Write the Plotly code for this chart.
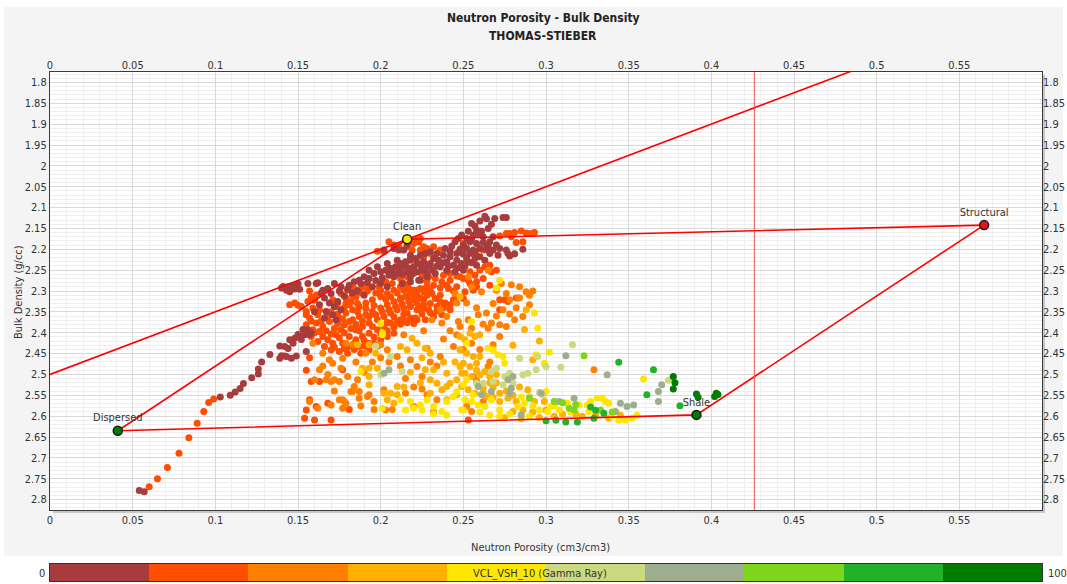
import plotly.graph_objects as go

# ---------------- DATA ----------------
title_1 = "Neutron Porosity - Bulk Density"
title_2 = "THOMAS-STIEBER"
x_title = "Neutron Porosity (cm3/cm3)"
y_title = "Bulk Density (g/cc)"
colorbar_title = "VCL_VSH_10 (Gamma Ray)"

x_ticks = [0, 0.05, 0.1, 0.15, 0.2, 0.25, 0.3, 0.35, 0.4, 0.45, 0.5, 0.55]
x_tick_labels = ["0", "0.05", "0.1", "0.15", "0.2", "0.25", "0.3", "0.35", "0.4", "0.45", "0.5", "0.55"]
y_ticks = [1.8, 1.85, 1.9, 1.95, 2.0, 2.05, 2.1, 2.15, 2.2, 2.25, 2.3, 2.35, 2.4, 2.45,
           2.5, 2.55, 2.6, 2.65, 2.7, 2.75, 2.8]
y_tick_labels = ["1.8", "1.85", "1.9", "1.95", "2", "2.05", "2.1", "2.15", "2.2", "2.25", "2.3",
                 "2.35", "2.4", "2.45", "2.5", "2.55", "2.6", "2.65", "2.7", "2.75", "2.8"]

vsh_bin_edges = [0, 10, 20, 30, 40, 50, 60, 70, 80, 90, 100]
vsh_bin_centers = [5, 15, 25, 35, 45, 55, 65, 75, 85, 95]
vsh_colors = ["#A83C3C", "#FF4E00", "#FF8000", "#FFB000", "#FFE600",
              "#CCD980", "#9DAE8F", "#7ED61A", "#22B22A", "#007D00"]

# Thomas-Stieber end points (neutron porosity, bulk density)
end_names = ["Clean", "Structural", "Shale", "Dispersed"]
end_phi = [0.216, 0.565, 0.391, 0.041]
end_rho = [2.176, 2.142, 2.597, 2.635]
end_colors = ["#FFE600", "#E8141E", "#007D00", "#007D00"]

# upper limit line (from density axis through Clean point)
upper_line_phi = [0.0, 0.49]
upper_line_rho = [2.5, 1.765]

# vertical marker line
cutoff_phi = 0.426

# scatter points per VCL class (phi, rho)
pts_00_10 = [
    (0.054,2.778),(0.057,2.781),(0.103,2.554),(0.109,2.550),(0.112,2.542),(0.115,2.534),(0.117,2.522),
    (0.122,2.508),(0.126,2.499),(0.126,2.487),(0.128,2.470),(0.133,2.452),(0.139,2.432),(0.142,2.456),
    (0.144,2.438),(0.146,2.461),(0.149,2.456),(0.155,2.445),
    (0.145,2.417),(0.148,2.413),(0.151,2.409),(0.154,2.405),(0.156,2.393),(0.153,2.392),(0.157,2.405),
    (0.147,2.425),(0.142,2.433),(0.140,2.455),(0.143,2.457),(0.139,2.461),(0.150,2.404),(0.152,2.416),(0.158,2.400),
    (0.140,2.293),(0.141,2.289),(0.145,2.291),(0.150,2.283),(0.161,2.282),(0.144,2.290),(0.147,2.288),
    (0.145,2.302),(0.151,2.296),(0.156,2.282),(0.162,2.280),(0.143,2.298),(0.148,2.295),
    (0.165,2.298),(0.168,2.294),(0.170,2.306),(0.166,2.317),(0.169,2.329),(0.172,2.337),(0.167,2.349),
    (0.171,2.357),(0.166,2.365),(0.173,2.369),(0.163,2.333),(0.176,2.345),(0.160,2.350),
    (0.181,2.286),(0.184,2.278),(0.187,2.274),(0.190,2.266),(0.193,2.270),(0.196,2.258),(0.200,2.254),
    (0.203,2.250),(0.206,2.246),(0.209,2.242),(0.212,2.234),(0.215,2.230),(0.218,2.226),(0.221,2.222),
    (0.224,2.214),(0.227,2.210),(0.230,2.206),(0.193,2.250),(0.198,2.242),(0.204,2.234),(0.210,2.226),
    (0.214,2.202),(0.218,2.214),(0.222,2.234),(0.226,2.230),(0.229,2.238),(0.208,2.266),(0.210,2.258),
    (0.216,2.254),(0.222,2.254),(0.228,2.258),(0.200,2.282),(0.204,2.290),(0.213,2.282),(0.218,2.278),
    (0.223,2.274),(0.202,2.202),(0.208,2.198),(0.211,2.202),(0.176,2.290),(0.172,2.282),(0.186,2.300),
    (0.195,2.290),(0.190,2.310),
    (0.220,2.242),(0.224,2.238),(0.227,2.246),(0.230,2.234),(0.232,2.222),(0.235,2.226),(0.236,2.242),
    (0.238,2.214),(0.240,2.230),(0.242,2.218),(0.244,2.238),(0.246,2.226),(0.249,2.234),(0.252,2.222),
    (0.254,2.210),(0.256,2.202),(0.233,2.258),(0.228,2.266),(0.224,2.274),(0.218,2.266),(0.240,2.250),
    (0.245,2.254),(0.260,2.218),(0.263,2.226),(0.250,2.250),(0.258,2.238),(0.216,2.190),
    (0.263,2.121),(0.264,2.127),(0.269,2.126),(0.274,2.124),(0.276,2.124),(0.255,2.138),(0.257,2.144),
    (0.260,2.132),(0.258,2.154),(0.261,2.157),(0.253,2.157),(0.249,2.166),(0.247,2.174),(0.252,2.174),
    (0.254,2.182),(0.258,2.186),(0.262,2.184),(0.266,2.182),(0.260,2.198),(0.264,2.200),(0.257,2.206),
    (0.252,2.198),(0.250,2.190),(0.256,2.166),(0.262,2.170),(0.245,2.182),(0.243,2.192),(0.248,2.200),
    (0.272,2.198),(0.276,2.202),(0.277,2.210),(0.278,2.216),(0.281,2.211),(0.286,2.200),(0.271,2.214),
    (0.268,2.202),(0.266,2.210),
    (0.175,2.300),(0.180,2.295),(0.183,2.305),(0.188,2.282),(0.192,2.280),(0.197,2.275),(0.201,2.268),
    (0.205,2.262),(0.207,2.255),(0.212,2.248),(0.214,2.240),(0.217,2.245),(0.213,2.260),(0.219,2.258),
    (0.225,2.250),(0.231,2.250),(0.234,2.240),(0.238,2.232),(0.241,2.240),(0.247,2.244),(0.251,2.240),
    (0.255,2.232),(0.257,2.222),(0.253,2.230),(0.246,2.210),(0.250,2.212),(0.242,2.205),(0.239,2.198),
    (0.234,2.210),(0.267,2.140),(0.265,2.150),(0.259,2.162),(0.255,2.175),(0.268,2.170),(0.270,2.190),
    (0.265,2.192),(0.174,2.325),(0.178,2.312),(0.164,2.305),
]

pts_10_20 = [
    (0.060,2.769),(0.065,2.750),(0.071,2.723),(0.078,2.689),(0.084,2.652),(0.089,2.617),(0.093,2.589),
    (0.096,2.567),(0.099,2.559),
    (0.145,2.333),(0.148,2.329),(0.152,2.337),(0.150,2.334),(0.156,2.325),(0.158,2.315),(0.161,2.310),(0.155,2.357),
    (0.155,2.349),(0.159,2.341),(0.157,2.365),(0.161,2.377),(0.155,2.381),(0.159,2.393),(0.163,2.397),
    (0.165,2.409),(0.168,2.417),(0.171,2.425),(0.173,2.405),(0.176,2.393),(0.178,2.381),(0.181,2.373),
    (0.175,2.365),(0.179,2.353),(0.183,2.345),(0.187,2.337),(0.191,2.329),(0.195,2.321),(0.200,2.313),
    (0.204,2.306),(0.208,2.298),(0.212,2.290),(0.216,2.286),(0.220,2.298),(0.224,2.294),(0.228,2.290),
    (0.183,2.369),(0.187,2.361),(0.191,2.357),(0.195,2.349),(0.200,2.341),(0.204,2.333),(0.208,2.325),
    (0.212,2.317),(0.216,2.313),(0.220,2.321),(0.224,2.317),(0.228,2.310),(0.185,2.393),(0.189,2.385),
    (0.193,2.377),(0.198,2.369),(0.202,2.361),(0.206,2.353),(0.210,2.345),(0.214,2.341),(0.218,2.337),
    (0.222,2.345),(0.226,2.341),(0.181,2.409),(0.185,2.417),(0.189,2.409),(0.193,2.401),(0.198,2.393),
    (0.202,2.385),(0.206,2.377),(0.210,2.373),(0.214,2.369),(0.218,2.365),(0.222,2.369),(0.177,2.425),
    (0.181,2.433),(0.187,2.433),(0.193,2.425),(0.200,2.417),(0.204,2.409),(0.208,2.401),(0.179,2.317),
    (0.183,2.310),(0.187,2.298),(0.181,2.333),(0.173,2.337),(0.169,2.373),(0.165,2.385),(0.176,2.306),
    (0.180,2.298),(0.184,2.294),(0.189,2.290),(0.193,2.294),(0.199,2.290),(0.203,2.278),(0.207,2.282),
    (0.212,2.270),(0.216,2.266),(0.220,2.258),(0.225,2.262),(0.229,2.266),(0.171,2.321),(0.174,2.329),
    (0.162,2.357),(0.158,2.409),(0.162,2.421),(0.166,2.433),(0.170,2.441),(0.175,2.445),(0.180,2.449),
    (0.193,2.441),(0.188,2.449),
    (0.216,2.194),(0.219,2.202),(0.224,2.202),(0.228,2.198),(0.232,2.194),(0.236,2.202),(0.230,2.210),
    (0.226,2.218),(0.222,2.226),(0.218,2.222),(0.215,2.234),(0.232,2.246),(0.248,2.202),(0.250,2.186),
    (0.252,2.198),(0.258,2.214),(0.262,2.202),(0.264,2.194),(0.260,2.250),(0.257,2.262),(0.254,2.254),
    (0.263,2.242),(0.266,2.238),(0.267,2.254),(0.270,2.250),(0.262,2.270),(0.258,2.278),(0.253,2.274),
    (0.248,2.266),(0.242,2.274),(0.237,2.278),(0.232,2.286),(0.227,2.294),(0.222,2.298),(0.217,2.294),
    (0.214,2.282),(0.215,2.313),(0.220,2.317),(0.226,2.321),(0.231,2.306),(0.236,2.310),(0.241,2.294),
    (0.246,2.290),(0.251,2.302),(0.256,2.298),(0.218,2.337),(0.224,2.341),(0.229,2.345),(0.234,2.337),
    (0.239,2.329),(0.244,2.321),(0.221,2.365),(0.227,2.369),(0.232,2.361),(0.237,2.357),(0.216,2.353),
    (0.212,2.321),(0.212,2.369),(0.242,2.345),(0.272,2.321),(0.275,2.321),(0.277,2.325),(0.272,2.345),
    (0.282,2.317),(0.266,2.286),
    (0.278,2.162),(0.281,2.160),(0.285,2.156),(0.288,2.161),(0.291,2.162),(0.293,2.160),(0.279,2.170),
    (0.282,2.184),(0.286,2.182),(0.272,2.168),(0.276,2.162),
    (0.221,2.176),(0.224,2.174),(0.223,2.182),(0.220,2.186),(0.226,2.194),(0.205,2.182),(0.208,2.190),
    (0.211,2.194),(0.198,2.205),(0.202,2.206),
    (0.158,2.517),(0.163,2.517),(0.157,2.561),(0.161,2.577),(0.168,2.569),(0.181,2.584),(0.177,2.489),
    (0.154,2.605),(0.160,2.609),(0.170,2.609),(0.155,2.585),(0.155,2.490),(0.157,2.460),(0.253,2.609),
    (0.157,2.300),(0.160,2.322),(0.163,2.345),(0.158,2.372),(0.160,2.400),(0.164,2.372),(0.167,2.395),
    (0.170,2.403),(0.172,2.390),(0.174,2.378),(0.177,2.367),(0.170,2.350),(0.174,2.355),(0.178,2.340),
    (0.182,2.325),(0.185,2.315),(0.188,2.305),(0.192,2.300),(0.197,2.305),(0.200,2.298),(0.203,2.320),
    (0.206,2.314),(0.210,2.305),(0.214,2.298),(0.218,2.305),(0.222,2.310),(0.226,2.302),(0.230,2.298),
    (0.233,2.318),(0.236,2.326),(0.230,2.330),(0.226,2.333),(0.222,2.330),(0.217,2.325),(0.213,2.332),
    (0.209,2.337),(0.205,2.345),(0.201,2.350),(0.197,2.357),(0.193,2.362),(0.189,2.372),(0.185,2.380),
    (0.182,2.390),(0.178,2.400),(0.175,2.412),(0.172,2.435),(0.178,2.438),(0.184,2.425),(0.190,2.418),
    (0.196,2.410),(0.200,2.402),(0.204,2.395),(0.208,2.387),(0.212,2.380),(0.216,2.376),(0.220,2.378),
    (0.225,2.355),(0.230,2.352),(0.234,2.348),(0.238,2.340),(0.242,2.333),(0.246,2.312),(0.250,2.318),
    (0.244,2.300),(0.240,2.286),(0.236,2.292),(0.228,2.278),(0.233,2.270),(0.238,2.262),(0.242,2.258),
    (0.246,2.264),(0.250,2.270),(0.254,2.282),(0.258,2.290),(0.196,2.425),(0.190,2.432),(0.184,2.440),
    (0.198,2.432),(0.187,2.395),(0.195,2.385),(0.204,2.375),(0.208,2.362),(0.214,2.356),(0.168,2.360),
    (0.186,2.350),(0.191,2.342),(0.196,2.335),(0.186,2.330),(0.179,2.330),
]

pts_20_30 = [
    (0.159,2.425),(0.165,2.449),(0.169,2.465),(0.171,2.473),(0.177,2.461),(0.176,2.485),(0.160,2.513),
    (0.163,2.489),(0.167,2.513),(0.170,2.517),(0.172,2.513),(0.175,2.517),(0.182,2.541),(0.177,2.561),
    (0.178,2.565),(0.187,2.557),(0.162,2.581),(0.170,2.573),(0.177,2.581),(0.193,2.549),(0.202,2.537),
    (0.203,2.585),(0.186,2.513),(0.184,2.529),(0.179,2.425),(0.183,2.429),(0.191,2.449),(0.157,2.565),
    (0.253,2.266),(0.255,2.290),(0.270,2.298),(0.273,2.282),(0.252,2.329),(0.265,2.250),(0.261,2.302),
    (0.276,2.306),(0.274,2.345),(0.283,2.317),(0.288,2.302),(0.290,2.310),(0.245,2.306),(0.246,2.329),
    (0.236,2.345),(0.231,2.369),(0.237,2.377),(0.240,2.361),(0.247,2.373),(0.253,2.369),(0.259,2.357),
    (0.264,2.353),(0.267,2.377),(0.248,2.385),(0.255,2.389),(0.265,2.389),(0.272,2.381),(0.281,2.369),
    (0.292,2.300),(0.290,2.333),
    (0.183,2.541),(0.187,2.541),(0.192,2.553),(0.175,2.561),(0.179,2.569),(0.196,2.584),(0.207,2.584),
    (0.220,2.577),(0.228,2.549),(0.234,2.561),(0.200,2.429),(0.204,2.441),(0.210,2.457),(0.218,2.465),
    (0.222,2.481),(0.228,2.437),(0.236,2.457),(0.244,2.433),(0.252,2.577),(0.256,2.505),(0.265,2.481),
    (0.268,2.429),(0.272,2.409),(0.276,2.385),(0.286,2.361),(0.278,2.321),(0.284,2.317),
    (0.329,2.489),(0.255,2.589),(0.262,2.565),(0.258,2.515),(0.266,2.470),(0.214,2.405),(0.226,2.395),
    (0.165,2.480),(0.168,2.500),(0.172,2.540),(0.180,2.505),(0.185,2.470),(0.190,2.495),(0.195,2.470),
    (0.200,2.460),(0.205,2.470),(0.212,2.480),(0.215,2.510),(0.220,2.530),(0.225,2.505),(0.230,2.470),
    (0.234,2.480),(0.238,2.415),(0.242,2.395),(0.246,2.405),(0.250,2.440),(0.255,2.425),(0.260,2.440),
    (0.262,2.380),(0.258,2.340),(0.268,2.330),(0.270,2.360),(0.278,2.355),(0.282,2.340),(0.284,2.290),
    (0.279,2.285),(0.196,2.565),(0.188,2.575),(0.215,2.545),(0.225,2.535),(0.232,2.590),
]

pts_30_40 = [
    (0.189,2.485),(0.193,2.485),(0.198,2.485),(0.193,2.505),(0.193,2.525),(0.210,2.529),(0.202,2.545),
    (0.206,2.545),(0.210,2.549),(0.204,2.561),(0.208,2.569),(0.230,2.513),(0.234,2.521),(0.227,2.489),
    (0.232,2.489),(0.237,2.537),(0.242,2.521),(0.246,2.513),(0.249,2.497),(0.240,2.497),(0.230,2.449),
    (0.227,2.437),(0.222,2.425),(0.219,2.413),(0.216,2.441),(0.212,2.433),(0.197,2.449),(0.193,2.429),
    (0.186,2.429),
    (0.248,2.409),(0.251,2.417),(0.254,2.401),(0.257,2.409),(0.260,2.405),(0.248,2.441),(0.252,2.449),
    (0.256,2.457),(0.250,2.473),(0.254,2.481),(0.258,2.473),(0.251,2.497),(0.255,2.505),(0.260,2.501),
    (0.263,2.493),(0.249,2.529),(0.253,2.537),(0.257,2.545),(0.262,2.533),(0.264,2.553),(0.282,2.565),
    (0.277,2.557),(0.293,2.565),(0.280,2.589),(0.299,2.565),(0.289,2.537),
    (0.240,2.529),(0.246,2.549),(0.248,2.481),(0.260,2.457),(0.240,2.561),
    (0.270,2.520),(0.272,2.545),(0.268,2.530),(0.266,2.505),
    (0.322,2.600),(0.338,2.605),(0.345,2.598),(0.318,2.595),(0.305,2.600),(0.296,2.603),(0.285,2.606),
    (0.275,2.604),(0.248,2.313),(0.288,2.345),(0.287,2.392),(0.296,2.420),(0.280,2.430),(0.292,2.465),
    (0.262,2.545),(0.268,2.555),(0.272,2.565),(0.276,2.540),(0.280,2.550),(0.284,2.530),(0.266,2.520),
    (0.270,2.500),(0.258,2.490),(0.245,2.470),(0.238,2.470),(0.225,2.460),(0.218,2.495),(0.214,2.530),
    (0.224,2.520),(0.230,2.545),(0.286,2.585),(0.292,2.590),(0.300,2.585),(0.310,2.595),(0.330,2.598),
]

pts_40_50 = [
    (0.265,2.437),(0.268,2.441),(0.271,2.453),(0.274,2.457),(0.275,2.473),(0.251,2.561),(0.255,2.565),
    (0.259,2.573),(0.263,2.577),(0.267,2.561),(0.272,2.585),(0.283,2.577),(0.287,2.569),(0.296,2.585),
    (0.301,2.589),(0.303,2.577),(0.308,2.585),(0.325,2.573),(0.327,2.565),(0.331,2.557),(0.334,2.557),
    (0.336,2.565),(0.338,2.569),(0.326,2.589),(0.344,2.610),(0.348,2.610),(0.352,2.605),(0.359,2.511),
    (0.294,2.453),(0.299,2.473),(0.302,2.447),(0.252,2.513),(0.250,2.585),(0.256,2.549),(0.300,2.541),
    (0.313,2.569),(0.320,2.573),
    (0.201,2.405),(0.188,2.493),(0.212,2.561),(0.218,2.565),(0.220,2.581),(0.225,2.585),(0.215,2.585),
    (0.201,2.581),(0.224,2.573),(0.228,2.561),(0.232,2.577),(0.237,2.589),(0.240,2.565),(0.244,2.553),
    (0.249,2.585),(0.250,2.525),(0.246,2.541),(0.252,2.425),
    (0.272,2.274),(0.270,2.293),(0.293,2.353),(0.255,2.373),(0.200,2.378),(0.201,2.400),(0.295,2.389),
    (0.260,2.590),(0.266,2.598),(0.272,2.600),(0.278,2.595),(0.290,2.600),(0.305,2.575),(0.315,2.590),
    (0.340,2.600),(0.355,2.598),(0.232,2.595),(0.240,2.598),(0.285,2.555),(0.292,2.575),
]

pts_50_60 = [
    (0.316,2.429),(0.284,2.461),(0.270,2.485),(0.267,2.493),(0.278,2.497),(0.275,2.505),(0.289,2.497),
    (0.286,2.501),(0.294,2.489),(0.300,2.481),(0.258,2.521),(0.268,2.517),(0.262,2.521),(0.274,2.525),
    (0.280,2.521),(0.296,2.543),(0.298,2.549),(0.290,2.553),(0.374,2.514),(0.376,2.512),(0.197,2.432),
    (0.206,2.457),(0.200,2.501),(0.213,2.493),(0.309,2.483),(0.295,2.457),
]

pts_60_70 = [
    (0.312,2.455),(0.280,2.505),(0.277,2.513),(0.259,2.529),(0.267,2.541),(0.279,2.533),(0.278,2.545),
    (0.297,2.545),(0.308,2.565),(0.317,2.557),(0.337,2.501),(0.370,2.525),(0.368,2.541),(0.368,2.565),
    (0.345,2.569),(0.353,2.573),(0.349,2.577),(0.342,2.589),(0.285,2.597),(0.202,2.497),(0.205,2.489),
    (0.261,2.548),
]

pts_70_80 = [
    (0.323,2.455),(0.290,2.557),(0.314,2.581),(0.317,2.585),(0.305,2.565),(0.333,2.585),(0.310,2.568),
    (0.318,2.572),(0.340,2.590),
]

pts_80_90 = [
    (0.344,2.471),(0.365,2.489),(0.327,2.578),(0.330,2.586),(0.335,2.593),(0.306,2.610),(0.312,2.614),
    (0.319,2.614),(0.361,2.549),(0.381,2.575),(0.329,2.605),(0.300,2.611),
]

pts_90_100 = [
    (0.377,2.505),(0.378,2.520),(0.377,2.535),(0.391,2.547),(0.392,2.555),(0.402,2.553),(0.404,2.548),
    (0.403,2.545),
]

class_points = [pts_00_10, pts_10_20, pts_20_30, pts_30_40, pts_40_50,
                pts_50_60, pts_60_70, pts_70_80, pts_80_90, pts_90_100]
draw_order = [1, 0, 2, 3, 4, 5, 6, 7, 8, 9]

# ---------------- FIGURE ----------------
FONT = "DejaVu Sans Condensed, DejaVu Sans, sans-serif"
X_RANGE = [0, 0.6]
Y_RANGE = [2.825, 1.775]

fig = go.Figure()

for k in draw_order:
    pts, col = class_points[k], vsh_colors[k]
    fig.add_trace(go.Scatter(
        x=[p[0] for p in pts], y=[p[1] for p in pts], mode="markers",
        marker=dict(size=7, color=col, line=dict(width=0)),
        hoverinfo="skip", showlegend=False))

# Thomas-Stieber triangle: Clean -> Structural -> Shale -> Dispersed -> Clean
tri_phi = end_phi + [end_phi[0]]
tri_rho = end_rho + [end_rho[0]]
fig.add_trace(go.Scatter(x=tri_phi, y=tri_rho, mode="lines",
                         line=dict(color="#FF0000", width=1.6), hoverinfo="skip", showlegend=False))
fig.add_trace(go.Scatter(x=upper_line_phi, y=upper_line_rho, mode="lines",
                         line=dict(color="#FF0000", width=1.6), hoverinfo="skip", showlegend=False))

fig.add_trace(go.Scatter(
    x=end_phi, y=end_rho, mode="markers+text", text=end_names, textposition="top center",
    textfont=dict(family=FONT, size=11, color="#333333"),
    marker=dict(size=9, color=end_colors, line=dict(color="#1a1a1a", width=1.5)),
    hoverinfo="skip", showlegend=False, cliponaxis=False))

# dummy trace for the mirrored axes
fig.add_trace(go.Scatter(x=[None], y=[None], xaxis="x2", yaxis="y2", showlegend=False, hoverinfo="skip"))

# colour legend bar
n = len(vsh_colors)
cscale = []
for i, c in enumerate(vsh_colors):
    cscale.append([i / n, c])
    cscale.append([(i + 1) / n, c])
fig.add_trace(go.Heatmap(
    z=[list(range(n))], x=vsh_bin_centers, y=[0], xaxis="x3", yaxis="y3",
    colorscale=cscale, zmin=-0.5, zmax=n - 0.5, showscale=False, hoverinfo="skip"))

# geometry (pixels -> paper)
W, H = 1067, 584
ML, MR, MT, MB = 50, 25, 72, 3
PW, PH = W - ML - MR, H - MT - MB


def py(p):
    return (H - MB - p) / PH


def px(p):
    return (p - ML) / PW


tickfont = dict(family=FONT, size=11, color="#333333")
common_x = dict(range=X_RANGE, tickvals=x_ticks, ticktext=x_tick_labels, tickfont=tickfont,
                ticks="", fixedrange=True, zeroline=False)
common_y = dict(range=Y_RANGE, tickvals=y_ticks, ticktext=y_tick_labels, tickfont=tickfont,
                ticks="", fixedrange=True, zeroline=False)

fig.update_layout(
    width=W, height=H, autosize=False,
    margin=dict(l=ML, r=MR, t=MT, b=MB),
    paper_bgcolor="#F4F4F4", plot_bgcolor="#FFFFFF",
    font=dict(family=FONT, size=11, color="#333333"),
    xaxis=dict(**common_x, domain=[0, 1], anchor="y", side="bottom",
               showgrid=True, gridcolor="#D9D9D9", gridwidth=1,
               minor=dict(dtick=0.01, tick0=0, showgrid=True, gridcolor="#EEEEEE", gridwidth=1),
               showline=True, linecolor="#3a3a3a", linewidth=1.2, mirror=True),
    xaxis2=dict(**common_x, overlaying="x", anchor="y", side="top", showgrid=False, showline=False),
    yaxis=dict(**common_y, domain=[py(510), 1], anchor="x", side="left",
               showgrid=True, gridcolor="#D9D9D9", gridwidth=1,
               minor=dict(dtick=0.01, tick0=1.8, showgrid=True, gridcolor="#EEEEEE", gridwidth=1),
               showline=True, linecolor="#3a3a3a", linewidth=1.2, mirror=True),
    yaxis2=dict(**common_y, overlaying="y", anchor="x", side="right", showgrid=False, showline=False),
    xaxis3=dict(domain=[0, 1], anchor="y3", range=[vsh_bin_edges[0], vsh_bin_edges[-1]],
                showticklabels=False, showgrid=False, zeroline=False, ticks="",
                showline=True, linecolor="#333333", linewidth=1, mirror=True, fixedrange=True),
    yaxis3=dict(domain=[0, py(564)], anchor="x3", range=[-0.5, 0.5],
                showticklabels=False, showgrid=False, zeroline=False, ticks="",
                showline=True, linecolor="#333333", linewidth=1, mirror=True, fixedrange=True),
    shapes=[
        dict(type="line", xref="x", yref="y domain", x0=cutoff_phi, x1=cutoff_phi, y0=0, y1=1,
             line=dict(color="#F05050", width=1), layer="above"),
        # white surround of the grey panel
        dict(type="rect", xref="paper", yref="paper", x0=px(-5), x1=px(W + 5), y0=py(H + 5), y1=py(556),
             fillcolor="#FFFFFF", line=dict(width=0), layer="below"),
        dict(type="rect", xref="paper", yref="paper", x0=px(-5), x1=px(W + 5), y0=py(7), y1=py(-5),
             fillcolor="#FFFFFF", line=dict(width=0), layer="below"),
        dict(type="rect", xref="paper", yref="paper", x0=px(-5), x1=px(4), y0=py(556), y1=py(7),
             fillcolor="#FFFFFF", line=dict(width=0), layer="below"),
        dict(type="rect", xref="paper", yref="paper", x0=px(1063), x1=px(W + 5), y0=py(556), y1=py(7),
             fillcolor="#FFFFFF", line=dict(width=0), layer="below"),
        # frame shadow
        dict(type="rect", xref="paper", yref="paper", x0=px(1042), x1=px(1045), y0=py(513), y1=py(75),
             fillcolor="#C8C8C8", line=dict(width=0), layer="below"),
        dict(type="rect", xref="paper", yref="paper", x0=px(53), x1=px(1045), y0=py(513), y1=py(510),
             fillcolor="#C8C8C8", line=dict(width=0), layer="below"),
    ],
    annotations=[
        dict(text="<b>" + title_1 + "</b>", xref="paper", yref="paper", x=px(543), y=py(18),
             showarrow=False, font=dict(family=FONT, size=12, color="#222222"), xanchor="center", yanchor="middle"),
        dict(text="<b>" + title_2 + "</b>", xref="paper", yref="paper", x=px(543), y=py(36),
             showarrow=False, font=dict(family=FONT, size=12, color="#222222"), xanchor="center", yanchor="middle"),
        dict(text=x_title, xref="paper", yref="paper", x=px(540), y=py(547),
             showarrow=False, font=dict(family=FONT, size=11, color="#333333"), xanchor="center", yanchor="middle"),
        dict(text=y_title, xref="paper", yref="paper", x=px(18), y=py(292), textangle=-90,
             showarrow=False, font=dict(family=FONT, size=11, color="#333333"), xanchor="center", yanchor="middle"),
        dict(text=str(vsh_bin_edges[0]), xref="paper", yref="paper", x=px(47), y=py(573),
             showarrow=False, font=dict(family=FONT, size=11, color="#333333"), xanchor="right", yanchor="middle"),
        dict(text=str(vsh_bin_edges[-1]), xref="paper", yref="paper", x=px(1046), y=py(573),
             showarrow=False, font=dict(family=FONT, size=11, color="#333333"), xanchor="left", yanchor="middle"),
        dict(text=colorbar_title, xref="paper", yref="paper", x=px(540), y=py(573),
             showarrow=False, font=dict(family=FONT, size=11, color="#333333"), xanchor="center", yanchor="middle"),
    ],
)

fig.write_html("out.html")
